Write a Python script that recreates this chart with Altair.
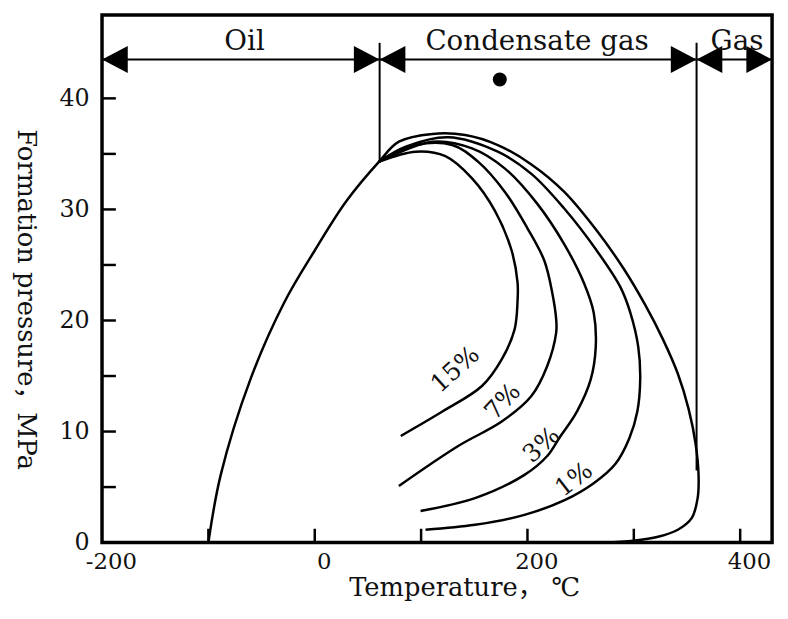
import altair as alt
import pandas as pd

# ---------------- data ----------------
# Phase envelope: bubble-point branch -> critical point -> dew-point branch
envelope_t = [-100, -88.4, -60.5, -28.8, 0.0, 29.8, 60.5, 79.1, 110.7, 141.4, 172.1, 203.7,
              234.4, 265.1, 290.2, 310.7, 327.4, 341.4, 351.6, 358.1, 360.9, 360.0, 354.4,
              341.4, 322.8, 299.5, 271.6]
envelope_p = [0.0, 6.1, 14.7, 21.6, 26.3, 30.75, 34.3, 36.1, 36.8, 36.7, 35.8, 34.05,
              31.6, 28.1, 24.7, 21.4, 18.3, 15.2, 12.0, 8.9, 6.0, 4.0, 2.2,
              1.16, 0.53, 0.18, 0.0]

c1_t = [60.5, 85.6, 125.6, 172.1, 203.7, 234.4, 265.1, 287.4, 296.7, 304.2, 306.0, 303.3,
        295.8, 282.8, 262.3, 234.4, 197.2, 150.7, 104.2]
c1_p = [34.3, 35.65, 36.5, 35.2, 33.2, 30.1, 26.3, 23.0, 20.7, 17.6, 14.7, 11.8,
        9.4, 7.1, 5.35, 3.8, 2.5, 1.6, 1.16]

c3_t = [60.5, 110.7, 147.9, 178.6, 209.3, 234.4, 253.0, 262.3, 264.2, 259.5, 246.5, 229.8,
        218.6, 197.2, 150.7, 99.5]
c3_p = [34.3, 36.1, 35.5, 33.7, 30.5, 26.9, 23.4, 20.7, 17.6, 14.7, 11.8, 9.4,
        7.8, 6.1, 4.0, 2.85]

c7_t = [60.5, 94.9, 129.3, 153.5, 178.6, 200.0, 215.8, 223.3, 227.0, 227.0, 218.6, 203.7,
        175.8, 134.9, 79.1]
c7_p = [34.3, 35.8, 35.8, 34.3, 31.6, 28.3, 25.4, 22.5, 20.1, 18.9, 15.9, 13.2,
        10.9, 8.7, 5.1]

c15_t = [60.5, 94.9, 122.8, 147.9, 169.3, 185.1, 190.7, 190.7, 187.9, 175.8, 157.2, 120.0, 80.9]
c15_p = [34.3, 35.2, 34.8, 32.8, 29.9, 26.3, 23.4, 21.8, 19.2, 16.5, 14.1, 11.8, 9.6]

pct_labels = ["15%", "7%", "3%", "1%"]
pct_t = [132.0, 176.7, 213.0, 243.7]
pct_p = [15.6, 12.7, 8.8, 5.7]
pct_angle = [318, 313, 318, 322]

region_names = ["Oil", "Condensate gas", "Gas"]
region_t = [-66, 209, 397]
region_p = [44.4, 44.35, 44.35]

arrow_p = 43.5
separator_t = [61, 359]
separator_top = [45.0, 45.0]
separator_bottom = [34.3, 6.5]
arrow_right_tips = [61, 359, 430]
arrow_left_tips = [-200, 61, 359]

dot_t = [174]
dot_p = [41.7]

x_tick_values = [-100, 0, 100, 200, 300, 400]
y_tick_values = [5, 10, 15, 20, 25, 30, 35, 40]
x_label_values = [-200, 0, 200, 400]
y_label_values = [0, 10, 20, 30, 40]

T_MIN, T_MAX = -200, 430
P_MIN, P_MAX = 0, 47.5

# ---------------- chart ----------------
W, H = 677, 533
FONT = "DejaVu Serif, Noto Sans CJK SC"
INK = "#111111"

xscale = alt.Scale(domain=[T_MIN, T_MAX], nice=False, zero=False)
yscale = alt.Scale(domain=[P_MIN, P_MAX], nice=False, zero=False)

x_axis = alt.Axis(values=x_label_values, ticks=False, domain=False, grid=False,
                  labelExpr="'' + datum.value",
                  labelFont=FONT, labelFontSize=23, labelPadding=8, labelFlush=False,
                  labelOffset=9, labelColor=INK,
                  titleFont=FONT, titleFontSize=26, titleFontWeight="normal", titleColor=INK,
                  titleX=366, titleY=53, titleBaseline="alphabetic", titleAlign="center")
y_axis = alt.Axis(values=y_label_values, ticks=False, domain=False, grid=False,
                  labelFont=FONT, labelFontSize=24, labelPadding=13, labelColor=INK,
                  titleFont=FONT, titleFontSize=26, titleFontWeight="normal", titleColor=INK,
                  titleAngle=90, titleX=-77, titleY=287, titleAlign="center",
                  titleBaseline="middle")

X = alt.X("t:Q", scale=xscale, axis=x_axis, title="Temperature，  ℃")
Y = alt.Y("p:Q", scale=yscale, axis=y_axis, title="Formation pressure，MPa")

rows = []
for name, ts, ps in [("envelope", envelope_t, envelope_p), ("1%", c1_t, c1_p),
                     ("3%", c3_t, c3_p), ("7%", c7_t, c7_p), ("15%", c15_t, c15_p)]:
    for i, (t, p) in enumerate(zip(ts, ps)):
        rows.append({"curve": name, "i": i, "t": t, "p": p})
curve_df = pd.DataFrame(rows)

curves = alt.Chart(curve_df).mark_line(
    color="black", strokeWidth=2.5, interpolate="catmull-rom"
).encode(x=X, y=Y, detail="curve:N", order="i:Q")

xticks = alt.Chart(pd.DataFrame({"t": x_tick_values})).mark_rule(
    color="black", strokeWidth=2.5
).encode(x=X, y=alt.value(H), y2=alt.value(H - 14))

yticks = alt.Chart(pd.DataFrame({"p": y_tick_values})).mark_rule(
    color="black", strokeWidth=2.5
).encode(y=Y, x=alt.value(0), x2=alt.value(14))

arrow_line = alt.Chart(pd.DataFrame({"t": [T_MIN], "t2": [T_MAX], "p": [arrow_p]})).mark_rule(
    color="black", strokeWidth=2
).encode(x=X, x2="t2:Q", y=Y)

separators = alt.Chart(pd.DataFrame({"t": separator_t, "p": separator_top,
                                     "p2": separator_bottom})).mark_rule(
    color="black", strokeWidth=2
).encode(x=X, y=Y, y2="p2:Q")

heads_r = alt.Chart(pd.DataFrame({"t": arrow_right_tips, "p": [arrow_p] * 3})).mark_point(
    shape="M0,0L-2,-1.05L-2,1.05Z", filled=True, color="black", size=676, opacity=1
).encode(x=X, y=Y)

heads_l = alt.Chart(pd.DataFrame({"t": arrow_left_tips, "p": [arrow_p] * 3})).mark_point(
    shape="M0,0L2,-1.05L2,1.05Z", filled=True, color="black", size=676, opacity=1
).encode(x=X, y=Y)

dot = alt.Chart(pd.DataFrame({"t": dot_t, "p": dot_p})).mark_point(
    shape="circle", filled=True, color="black", size=200, opacity=1
).encode(x=X, y=Y)

regions = alt.Chart(pd.DataFrame({"t": region_t, "p": region_p, "name": region_names})).mark_text(
    font=FONT, fontSize=28, color=INK, align="center", baseline="alphabetic"
).encode(x=X, y=Y, text="name:N")

pcts = alt.Chart(pd.DataFrame({"t": pct_t, "p": pct_p, "lab": pct_labels,
                               "ang": pct_angle})).mark_text(
    font=FONT, fontSize=25, color=INK, align="center", baseline="middle"
).encode(x=X, y=Y, text="lab:N", angle=alt.Angle("ang:Q", scale=None))

chart = alt.layer(
    curves, xticks, yticks, arrow_line, separators, heads_r, heads_l, dot, regions, pcts
).properties(
    width=W, height=H,
    autosize=alt.AutoSizeParams(type="none"),
    padding={"left": 95, "top": 4, "right": 8, "bottom": 70},
    background="white",
).configure_view(
    stroke="black", strokeWidth=3.5
)

chart.save("out.html", embed_options={"renderer": "svg", "actions": False})
